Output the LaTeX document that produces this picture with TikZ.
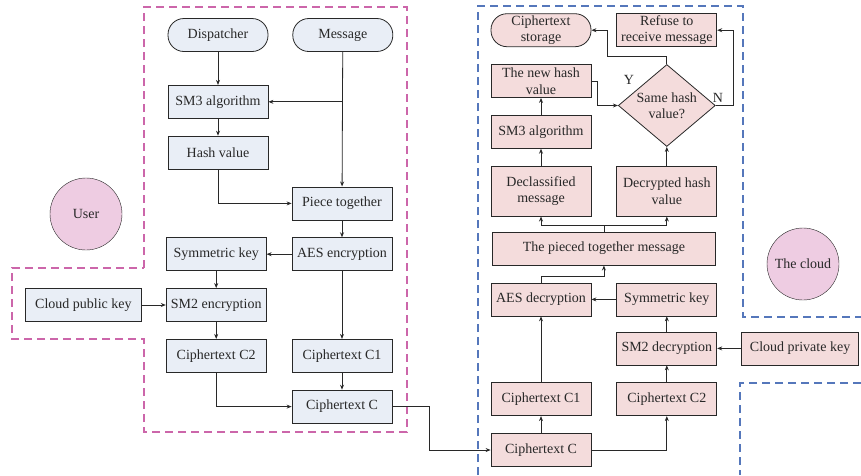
\documentclass[tikz,border=0pt]{standalone}
\usepackage{fontspec}
\setmainfont{Liberation Serif}
\usetikzlibrary{arrows.meta, positioning, shapes.geometric}
\definecolor{ink}{RGB}{40,40,40}
\definecolor{userfill}{RGB}{233,238,246}
\definecolor{cloudfill}{RGB}{244,220,220}
\definecolor{circfill}{RGB}{238,204,226}
\definecolor{userzone}{RGB}{204,102,170}
\definecolor{cloudzone}{RGB}{85,119,187}
\begin{document}
\begin{tikzpicture}[x=1pt, y=-1pt,
    every node/.style={font=\fontsize{14pt}{16.5pt}\selectfont, text=ink},
    box/.style={draw=ink, line width=0.8pt, minimum width=100pt, minimum height=33pt,
                inner xsep=3pt, inner ysep=1pt, align=center},
    ubox/.style={box, fill=userfill},
    cbox/.style={box, fill=cloudfill},
    term/.style={rounded corners=16pt},
    arr/.style={-{Stealth[length=5pt, width=4pt]}, draw=ink, line width=0.8pt},
    zone/.style={dash pattern=on 8pt off 5pt, line width=1.1pt}]
    \useasboundingbox (0,0) rectangle (861,475);
    % user side
    \node[ubox, term] (dispu) at (218,35) {Dispatcher};
    \node[ubox, term] (msgu) [right=24pt of dispu] {Message};
    \node[ubox] (sm3u) [below=33pt of dispu] {SM3 algorithm};
    \node[ubox] (hashu) [below=17pt of sm3u] {Hash value};
    \node[ubox] (pieceu) [below=17pt of hashu, xshift=124pt] {Piece together};
    \node[ubox] (aesu) [below=17pt of pieceu] {AES encryption};
    \node[ubox] (symu) [left=25pt of aesu] {Symmetric key};
    \node[ubox] (sm2u) [below=17pt of symu] {SM2 encryption};
    \node[ubox, minimum width=116pt] (pubu) [left=24pt of sm2u] {Cloud public key};
    \node[ubox] (c2u) [below=17pt of sm2u] {Ciphertext C2};
    \node[ubox] (c1u) [right=25pt of c2u] {Ciphertext C1};
    \node[ubox] (cu) [below=17pt of c1u] {Ciphertext C};
    \node[draw=ink, fill=circfill, circle, minimum size=72pt, inner sep=0pt] (user) at (86,214) {User};
    % cloud side
    \node[cbox] (cc) at (541,450) {Ciphertext C};
    \node[cbox] (c1c) [above=17pt of cc] {Ciphertext C1};
    \node[cbox] (c2c) [right=25pt of c1c] {Ciphertext C2};
    \node[cbox] (aesc) [above=66pt of c1c] {AES decryption};
    \node[cbox] (symc) [right=25pt of aesc] {Symmetric key};
    \node[cbox] (sm2c) [above=17pt of c2c] {SM2 decryption};
    \node[cbox, minimum width=117pt] (privc) [right=24pt of sm2c] {Cloud private key};
    \node[cbox, minimum width=223pt] (piecec) [above=17pt of aesc.north east, xshift=12.5pt] {The pieced together message};
    \node[cbox, minimum height=50pt] (declc) [above=66pt of aesc] {Declassified\\message};
    \node[cbox, minimum height=50pt] (decrc) [right=25pt of declc] {Decrypted hash\\value};
    \node[cbox] (sm3c) [above=17pt of declc] {SM3 algorithm};
    \node[cbox] (newc) [above=17pt of sm3c] {The new hash\\value};
    \node[cbox, term] (storec) [above=17pt of newc] {Ciphertext\\storage};
    \node[cbox] (refc) [right=25pt of storec] {Refuse to\\receive message};
    \node[cbox, diamond, aspect=1.2, inner sep=0pt, minimum width=97pt, minimum height=82pt]
        (same) [below=17pt of refc] {Same hash\\value?};
    \node (ylab) at (629,80) {Y};
    \node (nlab) at (718,98) {N};
    \node[draw=ink, fill=circfill, circle, minimum size=72pt, inner sep=0pt] (cloud) at (803,264) {The cloud};
    % zones
    \draw[zone, userzone] (144,268) -- (144,7) -- (407,7) -- (407,432) -- (144,432)
        -- (144,339) -- (12,339) -- (12,268) -- cycle;
    \draw[zone, cloudzone] (478,475) -- (478,6) -- (743,6) -- (743,317) -- (861,317);
    \draw[zone, cloudzone] (861,383) -- (740,383) -- (740,475);
    % user connectors
    \draw[arr] (dispu) -- (sm3u);
    \draw[arr] (msgu) -- (pieceu);
    \draw[arr] (msgu |- sm3u) -- (sm3u);
    \draw[arr] (sm3u) -- (hashu);
    \draw[arr] (hashu) |- (pieceu);
    \draw[arr] (pieceu) -- (aesu);
    \draw[arr] (aesu) -- (symu);
    \draw[arr] (symu) -- (sm2u);
    \draw[arr] (pubu) -- (sm2u);
    \draw[arr] (sm2u) -- (c2u);
    \draw[arr] (aesu) -- (c1u);
    \draw[arr] (c1u) -- (cu);
    \draw[arr] (c2u) |- (cu);
    \draw[arr] (cu.east) -- ++(37,0) |- (cc.west);
    % cloud connectors
    \draw[arr] (cc) -- (c1c);
    \draw[arr] (cc) -| (c2c);
    \draw[arr] (c1c) -- (aesc);
    \draw[arr] (c2c) -- (sm2c);
    \draw[arr] (privc) -- (sm2c);
    \draw[arr] (sm2c) -- (symc);
    \draw[arr] (symc) -- (aesc);
    \draw[arr] (aesc.north) -- ++(0,-6) -| (piecec.south);
    \draw[arr] (piecec.north) -- ++(0,-6) -| (declc.south);
    \draw[arr] (piecec.north) -- ++(0,-6) -| (decrc.south);
    \draw[arr] (declc) -- (sm3c);
    \draw[arr] (sm3c) -- (newc);
    \draw[arr] (decrc) -- (same);
    \draw[arr] (newc.east) -- ++(6,0) |- (same.west);
    \draw[arr] (same.north) -- ++(0,-8) -- ++(-59,0) |- (storec.east);
    \draw[arr] (same.east) -- ++(18,0) |- (refc.east);
\end{tikzpicture}
\end{document}
